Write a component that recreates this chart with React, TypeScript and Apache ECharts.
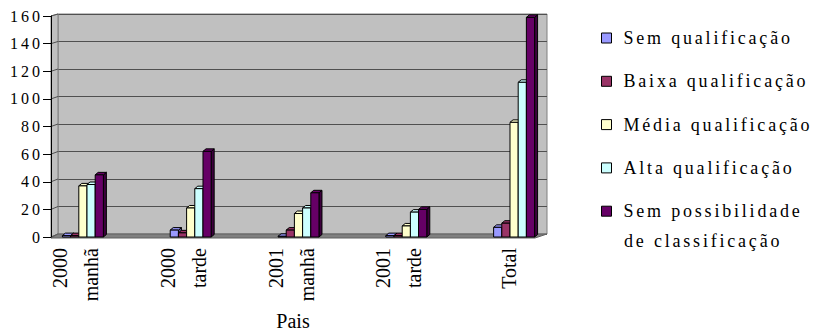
import React, { useEffect, useRef } from 'react';
import * as echarts from 'echarts';

// ---------- data ----------
const categories = ['2000\nmanhã', '2000\ntarde', '2001\nmanhã', '2001\ntarde', 'Total'];
const seriesNames = [
  'Sem qualificação',
  'Baixa qualificação',
  'Média qualificação',
  'Alta qualificação',
  'Sem possibilidade de classificação',
];
const semQualificacao = [1, 5, 0.5, 1, 7];
const baixaQualificacao = [1, 3, 5, 1, 10];
const mediaQualificacao = [37, 21, 17, 8, 83];
const altaQualificacao = [38, 35, 21, 18, 112];
const semPossibilidade = [45, 62, 32, 20, 159];
const yTicks = [0, 20, 40, 60, 80, 100, 120, 140, 160];
const axisName = 'Pais';

// ---------- styles ----------
const colors = ['#9999ff', '#993366', '#ffffcc', '#ccffff', '#660066'];
const sideColors = ['#5c5c99', '#5c1f3d', '#99997a', '#7a9999', '#3d003d'];
const FONT = 'Liberation Serif';

const allValues = [semQualificacao, baixaQualificacao, mediaQualificacao, altaQualificacao, semPossibilidade];

const FRONT_X = 51;
const WALL_X = 58;
const WALL_RIGHT = 547;
const FRONT_RIGHT = 535;

function makeRender(idx: number) {
  return (params: any, api: any) => {
    const cat = api.value(0);
    const val = api.value(1);
    const base = api.coord([cat, 0]);
    const top = api.coord([cat, val]);
    const band = api.size([1, 0])[0];
    const bw = band * 0.076;
    const x0 = base[0] + (idx - 2.5) * bw;
    const x1 = x0 + bw;
    const y0 = base[1];
    const y1 = top[1];
    const color = api.visual('color');
    const dx = 3;
    const dy = 2.5;
    return {
      type: 'group',
      children: [
        {
          type: 'polygon',
          shape: { points: [[x1, y1], [x1 + dx, y1 - dy], [x1 + dx, y0 - dy], [x1, y0]] },
          style: { fill: sideColors[idx], stroke: '#000', lineWidth: 1 },
        },
        {
          type: 'polygon',
          shape: { points: [[x0, y1], [x0 + dx, y1 - dy], [x1 + dx, y1 - dy], [x1, y1]] },
          style: { fill: color, stroke: '#000', lineWidth: 1 },
        },
        {
          type: 'rect',
          shape: { x: x0, y: y1, width: bw, height: y0 - y1 },
          style: { fill: color, stroke: '#000', lineWidth: 1 },
        },
      ],
    };
  };
}

function categoryLabel(value: string) {
  const parts = value.split('\n');
  if (parts.length > 1) return `{a|${parts[0]}}\n{b|${parts[1]}}`;
  return `{a|${value}}\n{e| }`;
}

export default function App() {
  const ref = useRef<HTMLDivElement>(null);

  useEffect(() => {
    if (!ref.current) return;
    const chart = echarts.init(ref.current, undefined, { renderer: 'svg' });
    const yMin = yTicks[0];
    const yMax = yTicks[yTicks.length - 1];
    const yInt = yTicks[1] - yTicks[0];
    const labelText = { fontSize: 20, fontFamily: FONT, color: '#000' };

    const option: any = {
      animation: false,
      backgroundColor: '#ffffff',
      textStyle: { fontFamily: FONT },
      grid: [
        { left: WALL_X, top: 14, width: WALL_RIGHT - WALL_X, height: 220, show: true, backgroundColor: '#c0c0c0', borderColor: '#808080', borderWidth: 1, outerBoundsMode: 'none', containLabel: false },
        { left: FRONT_X, top: 16, width: FRONT_RIGHT - FRONT_X, height: 221, outerBoundsMode: 'none', containLabel: false },
        { left: 29, top: 16, width: 539, height: 221, outerBoundsMode: 'none', containLabel: false },
      ],
      xAxis: [
        { gridIndex: 0, type: 'value', show: false, min: 0, max: 1 },
        {
          gridIndex: 1, type: 'value', min: 0, max: 1,
          axisLine: { show: false }, axisTick: { show: false }, axisLabel: { show: false }, splitLine: { show: false },
          name: axisName, nameLocation: 'middle', nameGap: 74,
          nameTextStyle: { fontSize: 20, fontFamily: FONT, color: '#000' },
        },
        {
          gridIndex: 2, type: 'category', data: categories,
          axisLine: { show: false }, axisTick: { show: false }, splitLine: { show: false },
          axisLabel: {
            rotate: 90, interval: 0, margin: 11, fontSize: 20,
            fontFamily: FONT, color: '#000',
            formatter: categoryLabel,
            rich: {
              a: { ...labelText, lineHeight: 16 },
              b: { ...labelText, lineHeight: 46 },
              e: { ...labelText, lineHeight: 10 },
            },
          },
        },
      ],
      yAxis: [
        {
          gridIndex: 0, type: 'value', min: yMin, max: yMax, interval: yInt,
          axisLine: { show: false }, axisTick: { show: false }, axisLabel: { show: false },
          splitLine: { show: true, lineStyle: { color: '#505050', width: 1 } },
        },
        {
          gridIndex: 1, type: 'value', min: yMin, max: yMax, interval: yInt, z: 3,
          axisLine: { show: true, lineStyle: { color: '#000', width: 1 } },
          axisTick: { show: true, length: 8, lineStyle: { color: '#000' } },
          axisLabel: { fontSize: 16, fontFamily: FONT, color: '#000', margin: 8 },
          splitLine: { show: false },
        },
        { gridIndex: 2, type: 'value', min: yMin, max: yMax, show: false },
      ],
      legend: {
        orient: 'vertical',
        left: 601,
        top: 28,
        padding: 0,
        itemGap: 23.3,
        itemWidth: 10,
        itemHeight: 10,
        icon: 'rect',
        itemStyle: { borderColor: '#000', borderWidth: 1 },
        textStyle: { fontSize: 18, fontFamily: FONT, color: '#000', lineHeight: 20, padding: [0, 0, 0, 7] },
        formatter: (name: string) => (name === seriesNames[4] ? 'Sem possibilidade' : name),
        data: seriesNames,
      },
      series: seriesNames.map((name, i) => ({
        type: 'custom',
        name,
        xAxisIndex: 2,
        yAxisIndex: 2,
        itemStyle: { color: colors[i] },
        encode: { x: 0, y: 1 },
        renderItem: makeRender(i),
        data: allValues[i].map((v, j) => [j, v]),
        z: 2,
      })),
    };
    chart.setOption(option);

    // decoration: side wall, floor and side-wall gridlines, computed via axes
    const yf = (v: number) => chart.convertToPixel({ yAxisIndex: 1 } as any, v) as number;
    const yw = (v: number) => chart.convertToPixel({ yAxisIndex: 0 } as any, v) as number;
    const graphics: any[] = [];
    graphics.push({
      type: 'polygon', z: 1, silent: true,
      shape: { points: [[FRONT_X, yf(yMax)], [WALL_X, yw(yMax)], [WALL_X, yw(yMin)], [FRONT_X, yf(yMin)]] },
      style: { fill: '#c0c0c0', stroke: '#808080', lineWidth: 1 },
    });
    yTicks.forEach((v) => {
      graphics.push({
        type: 'line', z: 1, silent: true,
        shape: { x1: FRONT_X, y1: yf(v), x2: WALL_X, y2: yw(v) },
        style: { stroke: '#505050', lineWidth: 1 },
      });
    });
    graphics.push({
      type: 'polygon', z: 1, silent: true,
      shape: { points: [[FRONT_X, yf(yMin) + 1], [WALL_X, yw(yMin)], [WALL_RIGHT, yw(yMin)], [FRONT_RIGHT, yf(yMin) + 1]] },
      style: { fill: '#808080', stroke: '#606060', lineWidth: 1 },
    });
    graphics.push({
      type: 'text', z: 10, silent: true,
      x: 624, y: 241,
      style: { text: 'de classificação', fontSize: 18, fontFamily: FONT, fill: '#000', verticalAlign: 'middle', align: 'left' },
    });
    chart.setOption({ graphic: graphics });

    return () => chart.dispose();
  }, []);

  return (
    <>
      <style>{`
        #rs-chart text[style*="16px"] { letter-spacing: 3px; }
        #rs-chart text[style*="18px"] { letter-spacing: 2.8px; }
      `}</style>
      <div
        id="rs-chart"
        ref={ref}
        style={{ position: 'absolute', left: 0, top: 0, width: 817, height: 333, background: '#fff' }}
      />
    </>
  );
}
